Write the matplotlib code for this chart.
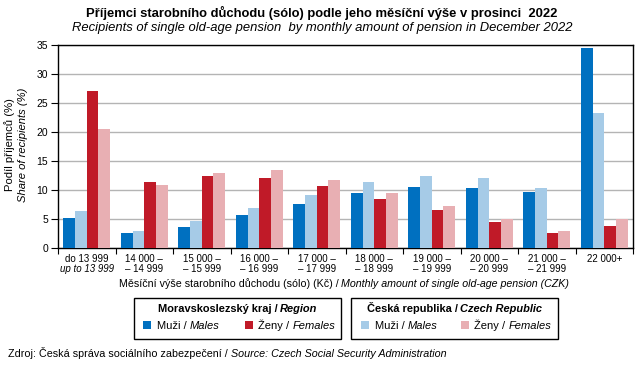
import matplotlib
matplotlib.use("Agg")
import matplotlib.pyplot as plt
import numpy as np
from matplotlib.patches import Rectangle

plt.rcParams['font.family'] = ['Liberation Sans', 'DejaVu Sans']

line1 = ["do 13 999", "14 000 –", "15 000 –", "16 000 –", "17 000 –", "18 000 –",
         "19 000 –", "20 000 –", "21 000 –", "22 000+"]
line2 = ["up to 13 999", "– 14 999", "– 15 999", "– 16 999", "– 17 999", "– 18 999",
         "– 19 999", "– 20 999", "– 21 999", ""]
msk_males = [5.2, 2.6, 3.7, 5.7, 7.6, 9.5, 10.5, 10.4, 9.7, 34.4]
cr_males = [6.4, 3.0, 4.7, 6.9, 9.2, 11.4, 12.4, 12.1, 10.4, 23.3]
msk_females = [27.0, 11.4, 12.4, 12.1, 10.7, 8.5, 6.6, 4.4, 2.6, 3.8]
cr_females = [20.5, 10.9, 12.9, 13.5, 11.7, 9.5, 7.3, 5.0, 3.0, 5.0]
yticks = [0, 5, 10, 15, 20, 25, 30, 35]

c_msk_m = '#0070c0'
c_cr_m = '#a6cbe7'
c_msk_f = '#c01a28'
c_cr_f = '#e8afb3'

W, H = 643, 369
fig = plt.figure(figsize=(W/100, H/100), dpi=100)
ax = fig.add_axes([58/W, 1-248/H, (633-58)/W, (248-45)/H])

x = np.arange(len(line1))
bw = 0.204
series = [(msk_males, c_msk_m), (cr_males, c_cr_m), (msk_females, c_msk_f), (cr_females, c_cr_f)]
for i, (vals, col) in enumerate(series):
    ax.bar(x + (i - 1.5) * bw, vals, width=bw, color=col, zorder=3, linewidth=0)

ax.set_xlim(-0.5, len(line1) - 0.5)
ax.set_ylim(0, 35)
ax.set_yticks(yticks)
ax.set_yticklabels([str(v) for v in yticks], fontsize=7.5)
ax.yaxis.grid(True, color='#b4b4b4', linewidth=1, zorder=0)
ax.tick_params(axis='y', direction='out', length=5, width=0.8, pad=2)
ax.set_xticks(x)
ax.set_xticklabels([])
ax.tick_params(axis='x', which='major', length=0)
ax.set_xticks(np.arange(-0.5, len(line1)), minor=True)
ax.tick_params(axis='x', which='minor', direction='out', length=4, width=0.8)
for s in ax.spines.values():
    s.set_linewidth(1.0)
    s.set_color('black')

tf = 7
for i in range(len(line1)):
    xf = (58 + (i + 0.5) * 57.5) / W
    fig.text(xf, 1 - 259/H, line1[i], ha='center', va='center', fontsize=tf)
    if line2[i]:
        fig.text(xf, 1 - 269/H, line2[i], ha='center', va='center', fontsize=tf,
                 style='italic' if i == 0 else 'normal')

renderer = fig.canvas.get_renderer()

def seg_width(txt, **kw):
    t1 = fig.text(0, 0, "I" + txt + "I", **kw)
    t2 = fig.text(0, 0, "II", **kw)
    w = t1.get_window_extent(renderer).width - t2.get_window_extent(renderer).width
    t1.remove(); t2.remove()
    return w

def rich(xpx, ypx, segs, fontsize, ha='left'):
    widths = [seg_width(s, fontsize=fontsize, **kw) for s, kw in segs]
    total = sum(widths)
    start = xpx - total / 2 if ha == 'center' else xpx
    base = ypx + 0.36 * fontsize * 100 / 72
    cur = start
    for (s, kw), w in zip(segs, widths):
        fig.text(cur / W, 1 - base / H, s, ha='left', va='baseline', fontsize=fontsize, **kw)
        cur += w

# Title
fig.text(322/W, 1 - 13/H, "Příjemci starobního důchodu (sólo) podle jeho měsíční výše v prosinci  2022",
         ha='center', va='center', fontsize=9.4, fontweight='bold')
fig.text(322/W, 1 - 28/H, "Recipients of single old-age pension  by monthly amount of pension in December 2022",
         ha='center', va='center', fontsize=9.4, style='italic')

# Y labels
fig.text(10/W, 1 - 145/H, "Podíl příjemců (%)", rotation=90, ha='center', va='center', fontsize=8.1)
fig.text(23/W, 1 - 145/H, "Share of recipients (%)", rotation=90, ha='center', va='center', fontsize=8.1, style='italic')

# X label
rich(344, 283, [("Měsíční výše starobního důchodu (sólo) (Kč) / ", {}),
                ("Monthly amount of single old-age pension (CZK)", {'style': 'italic'})], 7.7, ha='center')

# Legend boxes
for (x0, x1) in [(134, 341), (351, 558)]:
    fig.patches.append(Rectangle((x0/W, 1 - 339/H), (x1 - x0)/W, (339 - 298)/H,
                                 transform=fig.transFigure, fill=False, edgecolor='black', linewidth=1))

rich(237.5, 308, [("Moravskoslezský kraj / ", {'fontweight': 'bold'}),
                  ("Region", {'fontweight': 'bold', 'style': 'italic'})], 7.9, ha='center')
rich(454.5, 308, [("Česká republika / ", {'fontweight': 'bold'}),
                  ("Czech Republic", {'fontweight': 'bold', 'style': 'italic'})], 7.9, ha='center')

items = [(143, 157, c_msk_m, "Muži / ", "Males"),
         (245, 258, c_msk_f, "Ženy / ", "Females"),
         (361, 375, c_cr_m, "Muži / ", "Males"),
         (461, 474, c_cr_f, "Ženy / ", "Females")]
for sx, tx, col, a, b in items:
    fig.patches.append(Rectangle((sx/W, 1 - 329/H), 8/W, 8/H, transform=fig.transFigure,
                                 facecolor=col, edgecolor='none'))
    rich(tx, 325, [(a, {}), (b, {'style': 'italic'})], 8)

# Source
rich(8, 353, [("Zdroj: Česká správa sociálního zabezpečení / ", {}),
              ("Source: Czech Social Security Administration", {'style': 'italic'})], 7.75)

fig.savefig("out.png", dpi=100)
